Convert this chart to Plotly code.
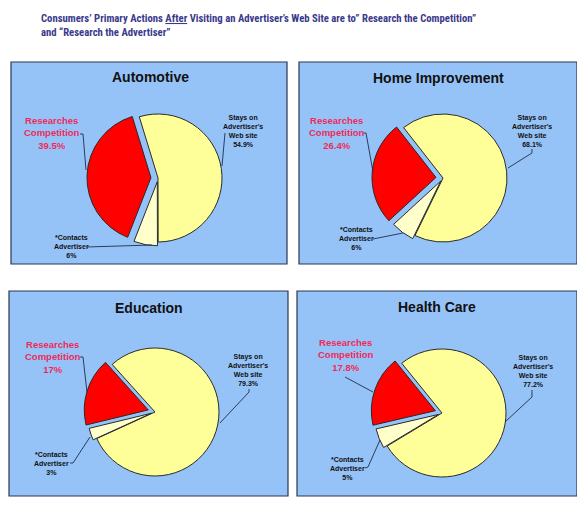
import plotly.graph_objects as go

# the page body adds an 8px margin, so the figure is drawn 8px smaller and shifted
OFF = 8
W, H = 585 - OFF, 509 - OFF

# data
segments = ["Stays on Advertiser's Web site", "*Contacts Advertiser", "Researches Competition"]
panels = ["Automotive", "Home Improvement", "Education", "Health Care"]
stays = [54.9, 68.1, 79.3, 77.2]
contacts = [6, 6, 3, 5]
researches = [39.5, 26.4, 17, 17.8]
stays_text = ["54.9%", "68.1%", "79.3%", "77.2%"]
contacts_text = ["6%", "6%", "3%", "5%"]
researches_text = ["39.5%", "26.4%", "17%", "17.8%"]

COLORS = ["#FFFF99", "#FFFFCC", "#FF0000"]
PULL = [0, 0.06, 0.11]
BG = "#96C3F7"
LINE = "#1F2D4A"
RED_TXT = "#EE2A5A"


def fx(x):
    return (x - OFF) / W


def fy(y):
    return 1 - (y - OFF) / H


# layout per panel (pixels in the reference): box, pie centre, rotation, title, label spots, leader lines
LAYOUT = [
    dict(box=(11, 62, 287, 264), c=(158, 178), rot=-17, title=(150, 77),
         red=(52, 133), stay=(243, 131), cont=(71, 247),
         lines=[[(80, 134), (83, 134), (86, 170)],
                [(225, 133), (222, 166)],
                [(87, 247), (152, 245)]]),
    dict(box=(299, 62, 577, 264), c=(443, 178), rot=-38, title=(438, 78),
         red=(337, 133), stay=(532, 131), cont=(356, 239),
         lines=[[(363, 133), (366, 133), (373, 172)],
                [(532, 149), (532, 153), (508, 168)],
                [(373, 239), (403, 233)]]),
    dict(box=(9, 291, 288, 496), c=(155, 412), rot=-42, title=(149, 308),
         red=(53, 357), stay=(248, 370), cont=(51, 463),
         lines=[[(80, 357), (83, 357), (87, 392)],
                [(249, 389), (249, 392), (220, 423)],
                [(70, 463), (73, 463), (90, 437)]]),
    dict(box=(297, 291, 577, 496), c=(442, 413), rot=-39, title=(437, 307),
         red=(346, 355), stay=(533, 371), cont=(347, 468),
         lines=[[(345, 377), (373, 392)],
                [(532, 390), (532, 397), (505, 422)],
                [(365, 468), (368, 467), (380, 440)]]),
]

R = 64
half = R * (1 + max(PULL))

fig = go.Figure()
shapes = []
annotations = []


def label(x, y, text, size, color):
    return dict(x=fx(x), y=fy(y), xanchor="center", yanchor="middle", text=text,
                showarrow=False, align="center",
                font=dict(family="Liberation Sans, Arial", size=size, color=color))


for i, name in enumerate(panels):
    L = LAYOUT[i]
    x0, y0, x1, y1 = L["box"]
    shapes.append(dict(type="rect", xref="paper", yref="paper",
                       x0=fx(x0), x1=fx(x1), y0=fy(y1), y1=fy(y0),
                       fillcolor=BG, line=dict(color="#2B3650", width=1.2), layer="below"))
    cx, cy = L["c"]
    fig.add_trace(go.Pie(
        labels=segments,
        values=[stays[i], contacts[i], researches[i]],
        sort=False,
        direction="clockwise",
        rotation=L["rot"],
        pull=PULL,
        marker=dict(colors=COLORS, line=dict(color="#2A2A2A", width=1)),
        textinfo="none",
        hoverinfo="label+percent",
        showlegend=False,
        domain=dict(x=[fx(cx - half), fx(cx + half)], y=[fy(cy + half), fy(cy - half)]),
    ))
    annotations.append(label(*L["title"], "<b>%s</b>" % name, 14, "#111111"))
    annotations.append(label(*L["red"], "<b>Researches<br>Competition<br>%s</b>" % researches_text[i],
                             9.5, RED_TXT))
    annotations.append(label(*L["stay"], "<b>Stays on<br>Advertiser's<br>Web site<br>%s</b>" % stays_text[i],
                             7, "#111111"))
    annotations.append(label(*L["cont"], "<b>*Contacts<br>Advertiser<br>%s</b>" % contacts_text[i],
                             7, "#111111"))
    for pts in L["lines"]:
        path = "M " + " L ".join("%.4f,%.4f" % (fx(px), fy(py)) for px, py in pts)
        shapes.append(dict(type="path", xref="paper", yref="paper", path=path,
                           line=dict(color=LINE, width=0.9)))

annotations.append(dict(
    x=fx(39), y=fy(10), xanchor="left", yanchor="top", align="left", showarrow=False,
    text="<b>Consumers’ Primary Actions <u>After</u> Visiting an Advertiser’s Web Site are to” Research the Competition”"
         "<br>and “Research the Advertiser”</b>",
    font=dict(family="Liberation Sans Narrow, Roboto Condensed, DejaVu Sans Condensed, Arial Narrow, sans-serif",
              size=10.7, color="#3A3A8C"),
))

fig.update_layout(
    width=W, height=H,
    margin=dict(l=0, r=0, t=0, b=0),
    paper_bgcolor="white",
    plot_bgcolor="white",
    shapes=shapes,
    annotations=annotations,
)

fig.write_html("out.html")
